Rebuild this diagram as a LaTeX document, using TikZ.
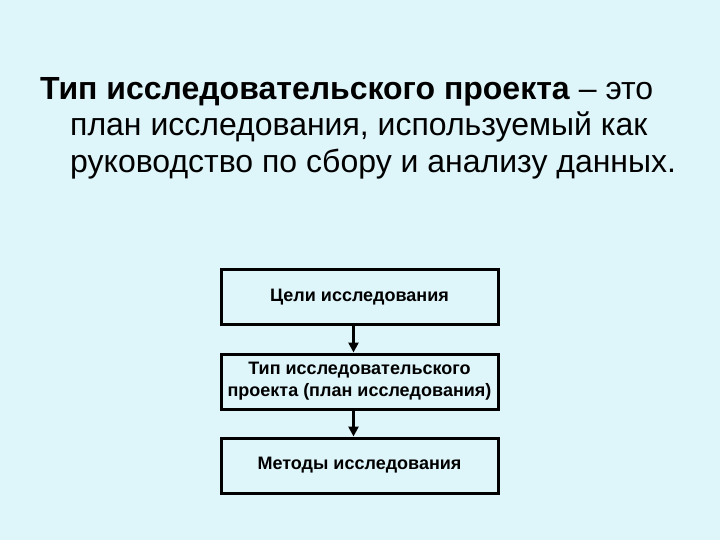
\documentclass[tikz,border=0pt]{standalone}
\usepackage{fontspec}
\setmainfont{Liberation Sans}
\usetikzlibrary{arrows.meta}
\definecolor{slidebg}{RGB}{222,245,250}
\tikzset{
	stage/.style={draw=black, line width=3bp, minimum width=277bp, minimum height=55bp, align=center, inner sep=2bp, font=\fontsize{18bp}{22bp}\selectfont\bfseries},
	flow/.style={line width=2.5bp, -{Triangle[width=10bp,length=10bp]}},
	title/.style={anchor=base west, inner sep=0pt, font=\fontsize{32bp}{36bp}\selectfont}
}
\begin{document}
\begin{tikzpicture}[x=1bp, y=-1bp]
		%%%%% START %%%%%
		
		\fill[slidebg] (0, 0) rectangle (720, 540);
		\useasboundingbox (0, 0) rectangle (720, 540);
		
		\node[title] (line1) at (40, 100) {\textbf{Тип исследовательского проекта} – это};
		\node[title] (line2) at (70, 136) {план исследования, используемый как};
		\node[title] (line3) at (70, 173) {руководство по сбору и анализу данных.};
		
		\node[stage] (goals) at (359.5, 297) {Цели исследования};
		\node[stage] (design) at (359.5, 381.5) {Тип исследовательского\\проекта (план исследования)};
		\node[stage] (methods) at (359.5, 465.5) {Методы исследования};
		
		\draw[flow] ([xshift=-6bp]goals.south) -- ([xshift=-6bp]design.north);
		\draw[flow] ([xshift=-6bp]design.south) -- ([xshift=-6bp]methods.north);
		
		%%%%% END %%%%%
	\end{tikzpicture}
\end{document}
